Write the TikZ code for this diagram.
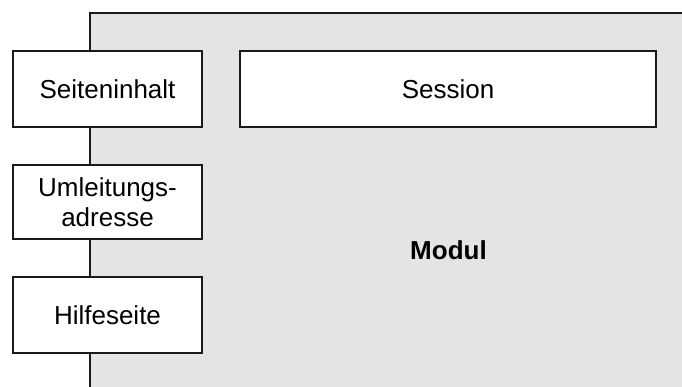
\documentclass[tikz,border=0pt]{standalone}
\usepackage{fontspec}
\setmainfont{Liberation Sans}
\definecolor{modfill}{HTML}{E4E4E4}
\definecolor{edge}{HTML}{1A1A1A}
\begin{document}
\begin{tikzpicture}[x=1pt,y=-1pt,
  box/.style={draw=edge,line width=2pt,fill=white,rectangle,inner sep=0pt,
    font=\fontsize{26}{30}\selectfont,align=center},
  sidebox/.style={box,minimum width=189pt,minimum height=76pt}]
\useasboundingbox (0,0) rectangle (682,387);
% module area: grey field with its left and top border
\fill[modfill] (90,13.5) rectangle (682,387);
\draw[edge,line width=2pt] (682,13.5) -- (89.5,13.5) -- (89.5,387);
% boxes
\node[sidebox] (inhalt) at (107.5,89) {Seiteninhalt};
\node[sidebox,minimum height=74pt] (umleitung) at (107.5,202) {Umleitungs-\\adresse};
\node[sidebox] (hilfe) at (107.5,315) {Hilfeseite};
\node[box,minimum width=416pt,minimum height=76pt] (session) at (448,89) {Session};
\node[font=\fontsize{26}{30}\selectfont\bfseries] (modul) at (448.5,250) {Modul};
\end{tikzpicture}
\end{document}
